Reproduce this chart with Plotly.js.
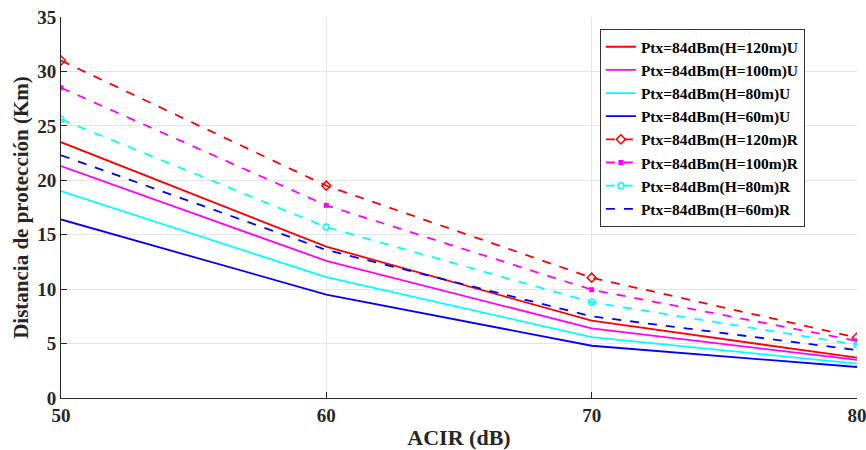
<!DOCTYPE html>
<html><head><meta charset="utf-8">
<script src="https://cdn.plot.ly/plotly-3.0.1.min.js"></script>
<style>body{margin:0;background:#fff}#c{width:866px;height:450px}</style>
</head><body><div id="c"></div>
<script>
const acir = [50, 60, 70, 80];
const names = ['Ptx=84dBm(H=120m)U','Ptx=84dBm(H=100m)U','Ptx=84dBm(H=80m)U','Ptx=84dBm(H=60m)U',
               'Ptx=84dBm(H=120m)R','Ptx=84dBm(H=100m)R','Ptx=84dBm(H=80m)R','Ptx=84dBm(H=60m)R'];
const u120 = [23.5, 13.9, 7.1, 3.7];
const u100 = [21.3, 12.6, 6.4, 3.5];
const u80  = [19.0, 11.1, 5.6, 3.15];
const u60  = [16.4, 9.5, 4.8, 2.85];
const r120 = [31.0, 19.5, 11.05, 5.55];
const r100 = [28.5, 17.7, 9.95, 5.25];
const r80  = [25.6, 15.7, 8.8, 4.9];
const r60  = [22.3, 13.6, 7.5, 4.4];
const series = [u120,u100,u80,u60,r120,r100,r80,r60];
const colors = ['#ff0000','#ff00ff','#00ffff','#0000ff','#ff0000','#ff00ff','#00ffff','#0000ff'];
const markers = [null,null,null,null,
  {symbol:'diamond-open',size:7,line:{width:1.5}},
  {symbol:'square',size:5},
  {symbol:'circle-open',size:6,line:{width:1.5}},
  null];
const traces = series.map((y,i)=>{
  const t = {x:acir, y:y, name:names[i], type:'scatter',
    mode: markers[i] ? 'lines+markers' : 'lines',
    line:{color:colors[i], width:1.8, dash: i>=4 ? 'dash' : 'solid'}};
  if (markers[i]) t.marker = Object.assign({color:colors[i]}, markers[i]);
  if (markers[i] && markers[i].line) t.marker.line = {color:colors[i], width:1.5};
  return t;
});
const fam = 'Liberation Serif, Times New Roman, serif';
Plotly.newPlot('c', traces, {
  width:866, height:450,
  margin:{l:61, r:9, t:17, b:52},
  paper_bgcolor:'#fff', plot_bgcolor:'#fff',
  font: {family:fam, color:'#262626'},
  showlegend:true,
  legend:{x:0.677, y:0.968, xanchor:'left', yanchor:'top', bgcolor:'#fff',
    bordercolor:'#333', borderwidth:1, font:{family:fam, size:15.5, color:'#000', weight:'bold'},
    tracegroupgap:0, itemwidth:30},
  xaxis:{range:[50,80], tickvals:[50,60,70,80], ticks:'inside', ticklen:6, tickcolor:'#262626',
    showline:true, linecolor:'#262626', linewidth:1, mirror:false, ticklabeloverflow:'allow',
    showgrid:true, gridcolor:'#e6e6e6', zeroline:false,
    tickfont:{family:fam, size:19, color:'#262626', weight:'bold'},
    title:{text:'ACIR (dB)', font:{family:fam, size:22, color:'#262626', weight:'bold'}, standoff:4}},
  yaxis:{range:[0,35], dtick:5, ticks:'inside', ticklen:6, tickcolor:'#262626',
    showline:true, linecolor:'#262626', linewidth:1, mirror:false,
    showgrid:true, gridcolor:'#e6e6e6', zeroline:false,
    tickfont:{family:fam, size:19, color:'#262626', weight:'bold'},
    title:{text:'Distancia de protección (Km)', font:{family:fam, size:21, color:'#262626', weight:'bold'}, standoff:2}}
}, {displayModeBar:false, staticPlot:true});
</script></body></html>
